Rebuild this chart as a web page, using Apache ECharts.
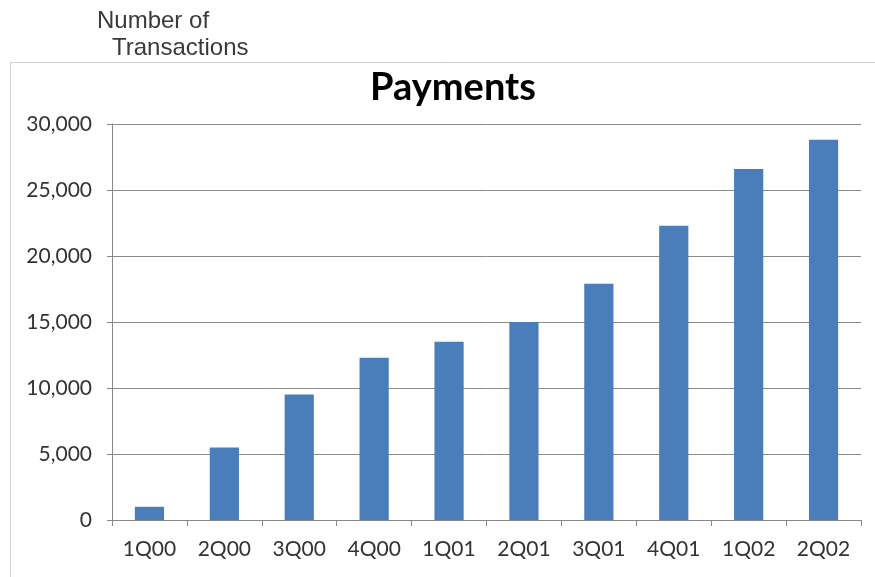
<!DOCTYPE html>
<html>
<head>
<meta charset="utf-8">
<script src="https://cdn.jsdelivr.net/npm/echarts@6/dist/echarts.min.js"></script>
<style>
  html, body { margin: 0; padding: 0; background: #fff; }
  #chart { width: 875px; height: 577px; }
</style>
</head>
<body>
<div id="chart"></div>
<script>
// quarters and number of transactions
var quarters = ['1Q00', '2Q00', '3Q00', '4Q00', '1Q01', '2Q01', '3Q01', '4Q01', '1Q02', '2Q02'];
var transactions = [1000, 5500, 9500, 12300, 13500, 15000, 17900, 22300, 26600, 28800];
var yTicks = [0, 5000, 10000, 15000, 20000, 25000, 30000];

var chart = echarts.init(document.getElementById('chart'));
var font = 'Lato, "Open Sans", sans-serif';
var noteFont = '24px "Liberation Sans", Arial, sans-serif';

chart.setOption({
  animation: false,
  graphic: [
    {
      type: 'rect',
      shape: { x: 10.5, y: 62.5, width: 870, height: 520 },
      style: { fill: 'none', stroke: '#d0d0d0', lineWidth: 1 },
      z: -1
    },
    {
      type: 'text',
      left: 97, top: 9,
      style: { text: 'Number of', fill: '#3a3a3a', font: noteFont }
    },
    {
      type: 'text',
      left: 112, top: 36,
      style: { text: 'Transactions', fill: '#3a3a3a', font: noteFont }
    }
  ],
  title: {
    text: 'Payments',
    left: 448, top: 64, textAlign: 'center',
    textStyle: { fontFamily: font, fontSize: 38, fontWeight: 'bold', color: '#000' }
  },
  grid: { left: 112, right: 14, top: 124, bottom: 57 },
  xAxis: {
    type: 'category',
    data: quarters,
    axisLine: { lineStyle: { color: '#888', width: 1 } },
    axisTick: { show: true, length: 6, lineStyle: { color: '#888' } },
    axisLabel: { color: '#333', fontFamily: font, fontSize: 21, margin: 19 }
  },
  yAxis: {
    type: 'value',
    min: 0, max: 30000, interval: 5000,
    axisLine: { show: true, lineStyle: { color: '#888' } },
    axisTick: { show: true, length: 5, lineStyle: { color: '#888' } },
    splitLine: { lineStyle: { color: '#8a8a8a', width: 1 } },
    axisLabel: {
      color: '#333', fontFamily: font, fontSize: 21, margin: 20,
      formatter: function (v) { return yTicks.indexOf(v) >= 0 ? v.toLocaleString('en-US') : ''; }
    }
  },
  series: [{
    type: 'bar',
    data: transactions,
    barWidth: '39%',
    itemStyle: { color: '#4a7ebb' }
  }]
});
</script>
</body>
</html>
